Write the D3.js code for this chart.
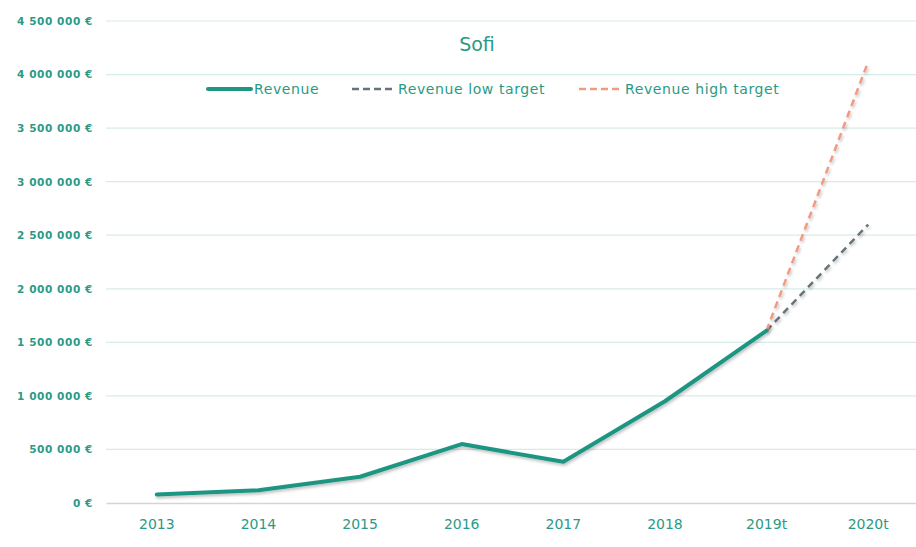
<!DOCTYPE html>
<html><head><meta charset="utf-8">
<script src="https://cdn.jsdelivr.net/npm/d3@7"></script>
<style>
html,body{margin:0;padding:0;background:#fff;}
svg{display:block;}
text{font-family:"DejaVu Sans","Noto Sans",sans-serif;}
</style></head>
<body>
<svg id="chart" width="916" height="547"></svg>
<script>
const categories = ["2013","2014","2015","2016","2017","2018","2019t","2020t"];
const revenue = [80000,120000,245000,550000,385000,950000,1610000,null];
const revenueLow = [null,null,null,null,null,null,1610000,2600000];
const revenueHigh = [null,null,null,null,null,null,1610000,4120000];
const yTicks = [0,500000,1000000,1500000,2000000,2500000,3000000,3500000,4000000,4500000];
const title = "Sofi";
const seriesNames = ["Revenue","Revenue low target","Revenue high target"];

const svg = d3.select("#chart");
const margin = {left:106, right:-3, top:21, bottom:44};
const W = 916, H = 547;
const x = d3.scaleBand().domain(categories).range([margin.left, W - margin.right]);
const y = d3.scaleLinear().domain([0,4500000]).range([H - margin.bottom, margin.top]);
const teal = "#1f9683";
const textTeal = "#2a9a86";

const defs = svg.append("defs");
const f = defs.append("filter").attr("id","shadow").attr("x","-10%").attr("y","-10%").attr("width","130%").attr("height","140%");
f.append("feDropShadow").attr("dx",1).attr("dy",2).attr("stdDeviation",1.5).attr("flood-color","#000").attr("flood-opacity",0.25);

// grid
svg.append("g").selectAll("line").data(yTicks.filter(d=>d>0)).join("line")
  .attr("x1",margin.left).attr("x2",W).attr("y1",d=>y(d)).attr("y2",d=>y(d))
  .attr("stroke","#d6ece8").attr("stroke-width",1.2);

// y axis labels
const fmt = d => (d===0 ? "0" : d3.format(",")(d).replace(/,/g," ")) + " €";
const yAxis = d3.axisLeft(y).tickValues(yTicks).tickFormat(fmt).tickSize(0).tickPadding(13);
const gy = svg.append("g").attr("transform",`translate(${margin.left},0)`).call(yAxis);
gy.select(".domain").remove();
gy.selectAll("text").attr("fill",textTeal).attr("font-size",10.5).attr("font-weight","bold").attr("letter-spacing",0.6);

// x axis
const xAxis = d3.axisBottom(x).tickSize(0).tickPadding(16);
const gx = svg.append("g").attr("transform",`translate(0,${y(0)})`).call(xAxis);
gx.select(".domain").attr("stroke","#d4d4d4").attr("stroke-width",1.5);
gx.selectAll("text").attr("fill",textTeal).attr("font-size",14);

const cx = d => x(d) + x.bandwidth()/2;
const line = d3.line().defined(d=>d.v!==null).x(d=>cx(d.c)).y(d=>y(d.v));
const mk = arr => categories.map((c,i)=>({c, v:arr[i]}));

svg.append("path").datum(mk(revenueLow)).attr("d",line)
  .attr("fill","none").attr("stroke","#66737a").attr("stroke-width",2.5).attr("stroke-dasharray","7,5").attr("filter","url(#shadow)");
svg.append("path").datum(mk(revenueHigh)).attr("d",line)
  .attr("fill","none").attr("stroke","#f09a82").attr("stroke-width",2.5).attr("stroke-dasharray","7,5").attr("filter","url(#shadow)");
svg.append("path").datum(mk(revenue)).attr("d",line)
  .attr("fill","none").attr("stroke",teal).attr("stroke-width",4).attr("stroke-linejoin","round").attr("stroke-linecap","round").attr("filter","url(#shadow)");

// title
svg.append("text").attr("x",477).attr("y",51).attr("text-anchor","middle")
  .attr("fill",textTeal).attr("font-size",19).text(title);

// legend
const legend = [
  {name:seriesNames[0], x:208, color:teal, dash:null, w:4},
  {name:seriesNames[1], x:352, color:"#66737a", dash:"7,4", w:2.5},
  {name:seriesNames[2], x:579, color:"#f09a82", dash:"7,4", w:2.5}
];
const lg = svg.append("g").selectAll("g").data(legend).join("g").attr("transform",d=>`translate(${d.x},89)`);
lg.append("line").attr("x1",0).attr("x2",43).attr("stroke",d=>d.color).attr("stroke-width",d=>d.w)
  .attr("stroke-dasharray",d=>d.dash).attr("stroke-linecap",d=>d.dash?null:"round");
lg.append("text").attr("x",46).attr("y",5).attr("fill",textTeal).attr("font-size",14).attr("letter-spacing",0.6).text(d=>d.name);
</script>
</body></html>
